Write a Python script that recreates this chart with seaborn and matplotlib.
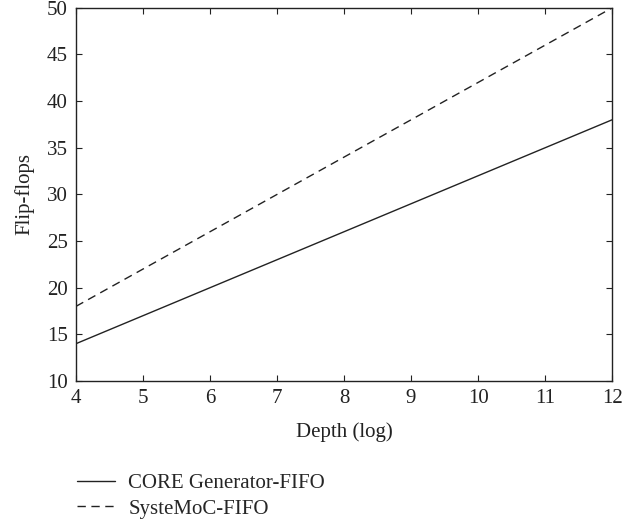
import numpy as np
import pandas as pd
import seaborn as sns
from matplotlib import pyplot as plt

depth = [4, 5, 6, 7, 8, 9, 10, 11, 12]
core_ff = [14, 17, 20, 23, 26, 29, 32, 35, 38]
systemoc_ff = [18, 22, 26, 30, 34, 38, 42, 46, 50]
series_names = ['CORE Generator-FIFO', 'SysteMoC-FIFO']

df = pd.DataFrame({
    'Depth': depth * 2,
    'FF': core_ff + systemoc_ff,
    'Design': [series_names[0]] * len(depth) + [series_names[1]] * len(depth),
})

sns.set_style('ticks')
plt.rcParams['font.family'] = ['Liberation Serif', 'DejaVu Serif']

fig = plt.figure(figsize=(6.33, 5.23), dpi=100)
ax = fig.add_axes([0.120, 0.2715, 0.847, 0.7135])

sns.lineplot(data=df, x='Depth', y='FF', hue='Design', style='Design',
             palette=['#222222', '#222222'],
             dashes={series_names[0]: '', series_names[1]: (6, 4)},
             linewidth=1.0, ax=ax, legend=True)

ax.set_xlim(4, 12)
ax.set_ylim(10, 50)
ax.set_xticks(range(4, 13))
ax.set_yticks(range(10, 51, 5))
ax.set_xlabel('Depth (log)', fontsize=15, color='#222222', labelpad=10)
ax.set_ylabel('Flip-flops', fontsize=15, color='#222222', labelpad=9)
ax.tick_params(direction='in', top=True, right=True, labelsize=15,
               length=4, width=0.8, colors='#222222', pad=6)
for s in ax.spines.values():
    s.set_linewidth(1.0)
    s.set_color('#222222')

handles, labels = ax.get_legend_handles_labels()
ax.get_legend().remove()
fig.legend(handles, labels, loc='upper left', bbox_to_anchor=(0.122, 0.095),
           frameon=False, fontsize=15, handlelength=1.8, handletextpad=0.65,
           labelspacing=0.3, borderaxespad=0, borderpad=0)

fig.savefig('out.png', dpi=100)
